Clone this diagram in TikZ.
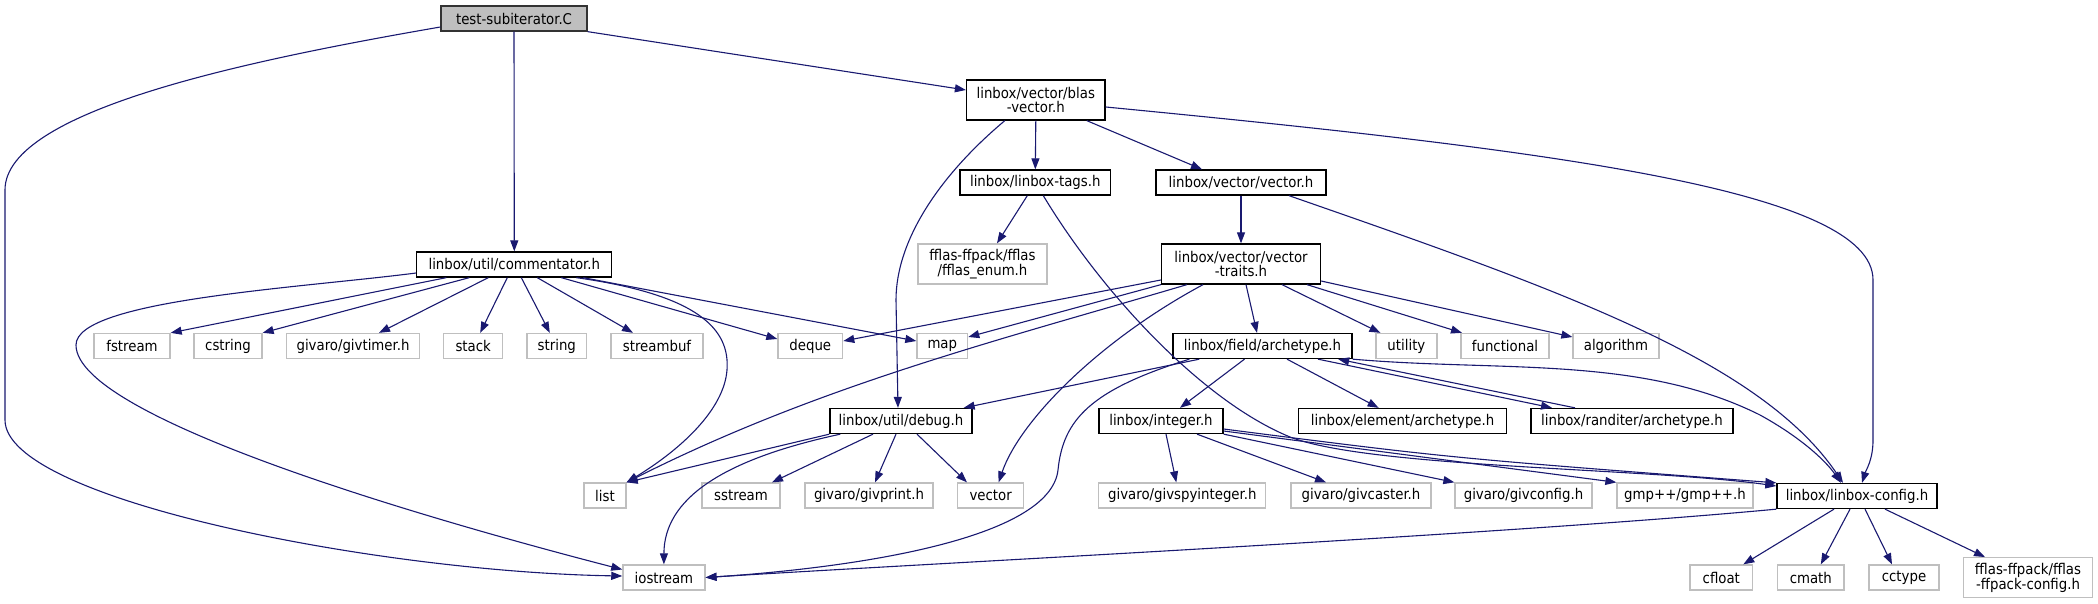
\documentclass[tikz,border=0pt]{standalone}
\usepackage{fontspec}
\newfontfamily\dxfont{DejaVu Sans Condensed}
\usetikzlibrary{arrows.meta}
\definecolor{eb}{HTML}{191970}
\definecolor{gb}{HTML}{BFBFBF}
\begin{document}
\begin{tikzpicture}[x=1pt,y=-1pt,
  box/.style={draw,line width=1.3pt,inner sep=0pt,minimum height=25pt,font=\dxfont\fontsize{14.8}{14}\selectfont,align=center,anchor=center,fill=white},
  blk/.style={box,draw=black},
  gry/.style={box,draw=gb},
  root/.style={box,draw=black!80,fill=gb},
  tall/.style={minimum height=40pt},
  e/.style={draw=eb,line width=1.1pt,-{Triangle[length=11pt,width=8pt]}}]
\useasboundingbox (0,0) rectangle (2098,604);
\node[root,minimum width=146] (T) at (514,18.5) {test-subiterator.C};
\node[blk,minimum width=195] (C) at (514.3,264.5) {linbox/util/commentator.h};
\node[blk,tall,minimum width=138.5] (B) at (1035.8,100) {linbox/vector/blas\\-vector.h};
\node[blk,minimum width=150.7] (LT) at (1035.3,182.5) {linbox/linbox-tags.h};
\node[blk,minimum width=170] (V) at (1241,182.5) {linbox/vector/vector.h};
\node[gry,tall,minimum width=129] (FE) at (982.5,264) {fflas-ffpack/fflas\\/fflas\_enum.h};
\node[blk,tall,minimum width=159] (VT) at (1241,264) {linbox/vector/vector\\-traits.h};
\node[gry,minimum width=76] (fstream) at (132,346) {fstream};
\node[gry,minimum width=68] (cstring) at (228,346) {cstring};
\node[gry,minimum width=133] (givtimer) at (353,346) {givaro/givtimer.h};
\node[gry,minimum width=59] (stack) at (473.2,346) {stack};
\node[gry,minimum width=59.6] (string) at (556.8,346) {string};
\node[gry,minimum width=92] (streambuf) at (657,346) {streambuf};
\node[gry,minimum width=64.7] (deque) at (810.3,346) {deque};
\node[gry,minimum width=50.7] (map) at (942.3,346) {map};
\node[blk,minimum width=179] (FA) at (1262.5,346) {linbox/field/archetype.h};
\node[gry,minimum width=61] (utility) at (1406.4,346) {utility};
\node[gry,minimum width=88] (functional) at (1505,346) {functional};
\node[gry,minimum width=86] (algorithm) at (1616,346) {algorithm};
\node[blk,minimum width=142] (D) at (901,421) {linbox/util/debug.h};
\node[blk,minimum width=124] (I) at (1161,421) {linbox/integer.h};
\node[blk,minimum width=208] (EA) at (1402.6,421) {linbox/element/archetype.h};
\node[blk,minimum width=202] (RA) at (1632,421) {linbox/randiter/archetype.h};
\node[gry,minimum width=42] (list) at (605,495.5) {list};
\node[gry,minimum width=78] (sstream) at (741,495.5) {sstream};
\node[gry,minimum width=128] (givprint) at (869,495.5) {givaro/givprint.h};
\node[gry,minimum width=66] (vector) at (990.6,495.5) {vector};
\node[gry,minimum width=167] (givspy) at (1182.3,495.5) {givaro/givspyinteger.h};
\node[gry,minimum width=140] (givcaster) at (1361,495.5) {givaro/givcaster.h};
\node[gry,minimum width=137] (givconfig) at (1523.5,495.5) {givaro/givconfig.h};
\node[gry,minimum width=136] (gmp) at (1685,495.5) {gmp++/gmp++.h};
\node[blk,minimum width=160] (LC) at (1857,496) {linbox/linbox-config.h};
\node[gry,minimum width=82] (iostream) at (663.9,577.5) {iostream};
\node[gry,minimum width=62.6] (cfloat) at (1721.3,577.5) {cfloat};
\node[gry,minimum width=66.5] (cmath) at (1810.8,577.5) {cmath};
\node[gry,minimum width=70] (cctype) at (1904,577.5) {cctype};
\node[gry,tall,minimum width=129] (FFC) at (2028,577.7) {fflas-ffpack/fflas\\-ffpack-config.h};
% test-subiterator
\draw[e] ([yshift=-8.5pt]T.west) .. controls (250,60) and (5,110) .. (5,190) -- (5,420) .. controls (5,500) and (380,572) .. ([yshift=1.5pt]iostream.west);
\draw[e] (T.south) -- (C.north);
\draw[e] (T.south east) -- ([yshift=10pt]B.west);
% blas-vector
\draw[e] ([xshift=-31pt]B.south) .. controls (940,175) and (896,240) .. (896,300) -- ([xshift=-3pt]D.north);
\draw[e] (B.south) -- (LT.north);
\draw[e] ([xshift=51pt]B.south) -- ([xshift=-39pt]V.north);
\draw[e] ([yshift=-7pt]B.east) .. controls (1550,150) and (1873,190) .. (1873,280) -- (1873,440) .. controls (1873,460) and (1866,470) .. ([xshift=5pt]LC.north);
% linbox-tags
\draw[e] ([xshift=-8pt]LT.south) -- ([xshift=14.5pt]FE.north);
\draw[e] ([xshift=8pt]LT.south) .. controls (1100,290) and (1200,400) .. (1290,437) .. controls (1370,468) and (1650,468) .. ([yshift=10pt]LC.west);
% vector.h
\draw[e] (V.south) -- (VT.north);
\draw[e] ([xshift=48pt]V.south) .. controls (1560,290) and (1760,360) .. ([xshift=-14pt]LC.north);
% vector-traits
\draw[e] ([yshift=-16pt]VT.west) -- ([yshift=5pt]deque.east);
\draw[e] (VT.south west) -- ([yshift=9pt]map.east);
\draw[e] ([xshift=26pt]VT.south west) .. controls (1000,340) and (820,385) .. (list.north east);
\draw[e] ([xshift=-38pt]VT.south) .. controls (1100,340) and (1020,420) .. ([xshift=8pt]vector.north);
\draw[e] ([xshift=5pt]VT.south) -- ([xshift=-5.5pt]FA.north);
\draw[e] ([xshift=41pt]VT.south) -- ([xshift=-26pt]utility.north);
\draw[e] ([xshift=66pt]VT.south) -- ([xshift=-43pt]functional.north);
\draw[e] ([yshift=-17pt]VT.east) -- ([yshift=9pt]algorithm.west);
% commentator
\draw[e] ([yshift=-8.5pt]C.west) .. controls (300,288) and (76,300) .. (76,345) .. controls (76,420) and (450,525) .. ([yshift=8pt]iostream.west);
\draw[e] ([xshift=-68pt]C.south) -- (fstream.north east);
\draw[e] ([xshift=-45pt]C.south) -- (cstring.north east);
\draw[e] ([xshift=-26pt]C.south) -- ([xshift=26pt]givtimer.north);
\draw[e] ([xshift=-7pt]C.south) -- ([xshift=7pt]stack.north);
\draw[e] ([xshift=7pt]C.south) -- ([xshift=-7pt]string.north);
\draw[e] ([xshift=23pt]C.south) -- ([xshift=-24pt]streambuf.north);
\draw[e] ([xshift=47pt]C.south) -- ([yshift=7pt]deque.west);
\draw[e] ([xshift=62pt]C.south) .. controls (700,295) and (730,330) .. (727,370) .. controls (724,410) and (680,450) .. (list.north east);
\draw[e] ([xshift=69pt]C.south) -- ([yshift=5pt]map.west);
% field/archetype
\draw[e] ([xshift=27pt]FA.south west) -- ([xshift=-9pt]D.north east);
\draw[e] ([xshift=17pt]FA.south west) .. controls (1090,390) and (1063,420) .. (1058,470) .. controls (1050,540) and (850,568) .. (iostream.east);
\draw[e] ([xshift=-18pt]FA.south) -- ([xshift=19pt]I.north);
\draw[e] ([xshift=24.5pt]FA.south) -- ([xshift=-24pt]EA.north);
\draw[e] ([xshift=55.5pt]FA.south) -- ([xshift=-80pt]RA.north);
\draw[e] ([xshift=-57pt]RA.north) -- ([xshift=-14.5pt]FA.south east);
\draw[e] (FA.south east) .. controls (1500,372) and (1640,355) .. (1760,415) .. controls (1800,437) and (1825,460) .. ([xshift=-16pt]LC.north);
% debug
\draw[e] (D.south west) -- (list.north east);
\draw[e] ([xshift=11pt]D.south west) .. controls (720,460) and (664,500) .. (iostream.north);
\draw[e] ([xshift=-28pt]D.south) -- ([xshift=31pt]sstream.north);
\draw[e] ([xshift=-5pt]D.south) -- ([xshift=6pt]givprint.north);
\draw[e] ([xshift=16pt]D.south) -- ([xshift=-23.6pt]vector.north);
% integer
\draw[e] ([xshift=5pt]I.south) -- ([xshift=-6pt]givspy.north);
\draw[e] ([xshift=36pt]I.south) -- ([xshift=-35pt]givcaster.north);
\draw[e] (I.south east) -- (givconfig.north west);
\draw[e] ([yshift=-10pt]I.east) -- (gmp.north west);
\draw[e] ([yshift=-8pt]I.east) .. controls (1450,458) .. (LC.north west);
% linbox-config
\draw[e] (LC.south west) .. controls (1500,535) and (900,565) .. (iostream.east);
\draw[e] ([xshift=-23pt]LC.south) -- ([xshift=22pt]cfloat.north);
\draw[e] ([xshift=-7pt]LC.south) -- ([xshift=10pt]cmath.north);
\draw[e] ([xshift=8pt]LC.south) -- ([xshift=-12pt]cctype.north);
\draw[e] ([xshift=28pt]LC.south) -- ([xshift=-43pt]FFC.north);
\end{tikzpicture}
\end{document}
